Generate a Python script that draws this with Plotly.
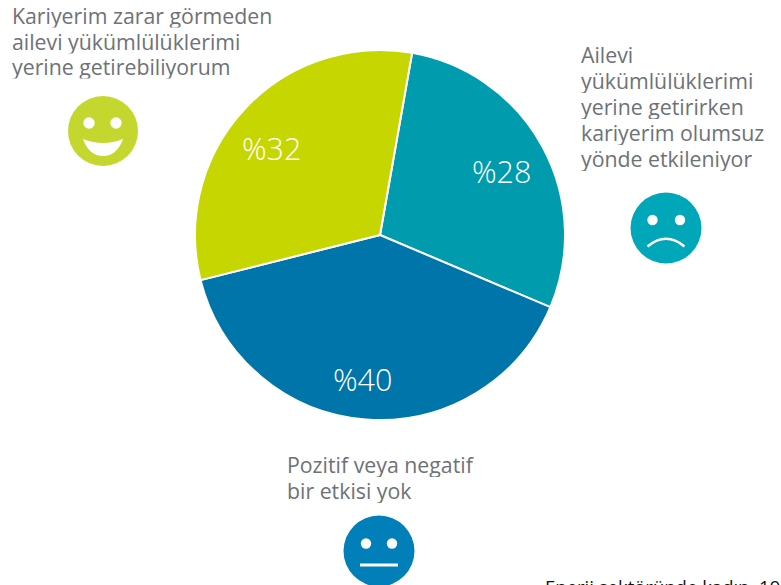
import plotly.graph_objects as go

W, H = 781, 585
categories = ["Ailevi yükümlülüklerimi yerine getirirken kariyerim olumsuz yönde etkileniyor",
              "Pozitif veya negatif bir etkisi yok",
              "Kariyerim zarar görmeden ailevi yükümlülüklerimi yerine getirebiliyorum"]
values = [28.6, 39.7, 31.7]
value_labels = ["%28", "%40", "%32"]
colors = ["#009CAD", "#0075A9", "#C6D600"]
TXT = "#6D7278"
FONT = "Open Sans"

def X(p): return p / W
def Y(p): return 1 - p / H

fig = go.Figure(go.Pie(
    labels=categories, values=values, sort=False, direction="clockwise", rotation=10,
    marker=dict(colors=colors, line=dict(color="white", width=2)),
    textinfo="none", hoverinfo="label", showlegend=False,
    domain=dict(x=[X(380 - 185), X(380 + 185)], y=[Y(235 + 185), Y(235 - 185)]),
))

def text(x, y, s, size=21.3, color=TXT, anchor="left", weight=None, height=None):
    fig.add_annotation(x=X(x), y=Y(y), xref="paper", yref="paper", text=s, showarrow=False,
                       xanchor=anchor, yanchor="top", align=anchor, valign="middle", height=height,
                       font=dict(family=FONT, size=size, color=color, weight=weight), borderpad=0, borderwidth=0)

def block(x, y, lines, step=26):
    for i, s in enumerate(lines):
        text(x, y + 1 + i * step, s, height=step - 1)

def circle(cx, cy, r, color):
    fig.add_shape(type="circle", xref="paper", yref="paper", x0=X(cx - r), x1=X(cx + r),
                  y0=Y(cy + r), y1=Y(cy - r), fillcolor=color, line_width=0)

def pth(d, fill=None, stroke=None, w=0):
    parts = []
    for c, *pts in d:
        parts.append(c + " ".join(f"{X(px):.5f},{Y(py):.5f}" for px, py in pts))
    fig.add_shape(type="path", xref="paper", yref="paper", path=" ".join(parts) + (" Z" if fill else ""),
                  fillcolor=fill, line=dict(color=stroke, width=w) if stroke else dict(width=0))

# Faces
circle(103, 131, 35, "#C4D72E")
circle(89, 123, 5.7, "white"); circle(116, 123, 5.7, "white")
pth([("M", (83, 139)), ("Q", (103, 147), (123, 139)), ("Q", (117, 156), (103, 156)), ("Q", (89, 156), (83, 139))], fill="white")

circle(666, 228, 35.5, "#00A7B9")
circle(652.5, 220, 5.2, "white"); circle(680, 220, 5.2, "white")
pth([("M", (647.5, 246.5)), ("Q", (666, 231), (684.5, 246.5))], stroke="white", w=2.6)

circle(379, 551, 35.5, "#007FB8")
circle(366, 543.5, 5.2, "white"); circle(392, 543.5, 5.2, "white")
pth([("M", (360, 565)), ("L", (398, 565))], stroke="white", w=2.8)

# Category labels
block(12, 2, ["Kariyerim zarar görmeden", "ailevi yükümlülüklerimi", "yerine getirebiliyorum"], step=25.6)
block(581, 41, ["Ailevi", "yükümlülüklerimi", "yerine getirirken", "kariyerim olumsuz", "yönde etkileniyor"])
block(287, 451, ["Pozitif veya negatif", "bir etkisi yok"])

# Value labels
text(271, 127, value_labels[2], size=30.5, color="white", anchor="center", weight=300)
text(501, 150, value_labels[0], size=30.5, color="white", anchor="center", weight=300)
text(362, 358, value_labels[1], size=30.5, color="white", anchor="center", weight=300)

# Clipped caption at the bottom
text(545, 574, "Enerji sektöründe kadın, 19", size=18.5, color="#111111")

fig.update_layout(width=W, height=H, margin=dict(l=0, r=0, t=0, b=0),
                  paper_bgcolor="white", plot_bgcolor="white", font=dict(family=FONT))
fig.write_html("out.html", post_script="document.body.style.margin='0';document.body.style.overflow='hidden';",
               config=dict(displayModeBar=False))
